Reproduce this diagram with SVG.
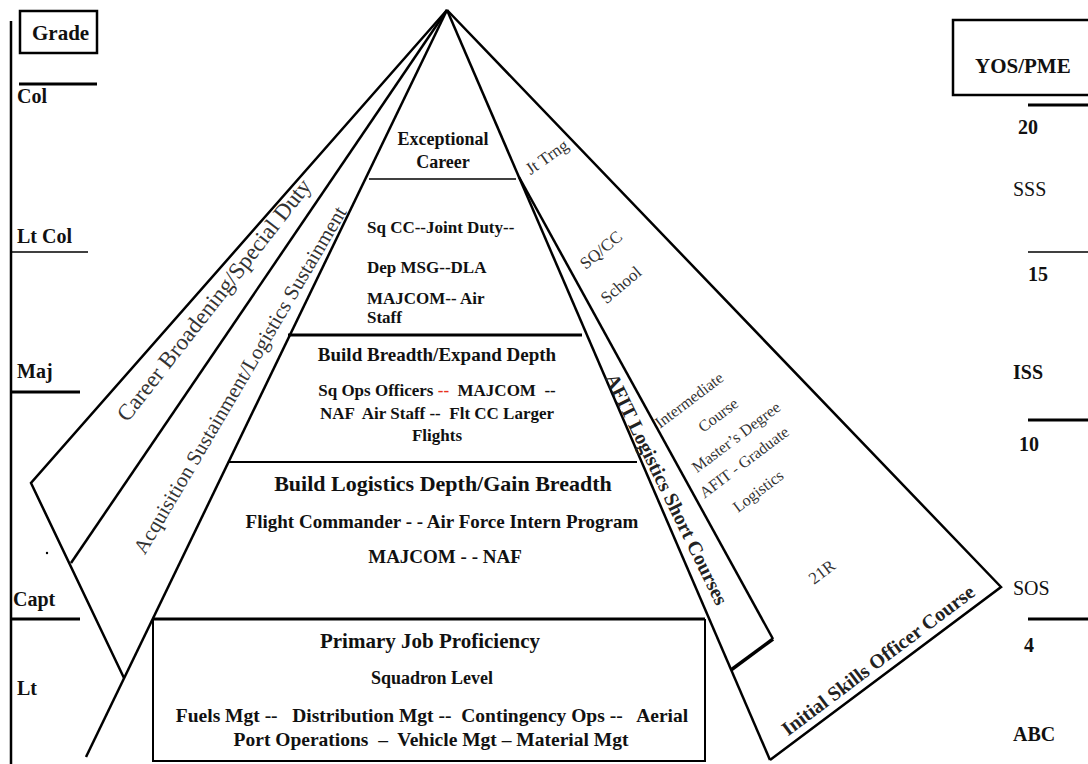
<svg xmlns="http://www.w3.org/2000/svg" width="1088" height="764" viewBox="0 0 1088 764">
<style>
text{font-family:"Liberation Serif","Times New Roman",serif;fill:#111}
.b{font-weight:bold}
.ln{stroke:#000;fill:none;stroke-width:2.5;stroke-linejoin:miter}
.thin{stroke-width:1.5}
.thick{stroke-width:3}
.m{text-anchor:middle}
.r{dominant-baseline:central;text-anchor:middle}
.lbl{font-size:20px;font-weight:bold}
.sl{font-size:19px;fill:#333}
.red{fill:#e8321e}
</style>
<rect width="1088" height="764" fill="#fff"/>

<!-- grade scale on the left -->
<g id="grade-axis">
  <line x1="11" y1="21" x2="11" y2="764" class="ln"/>
  <rect x="20" y="11" width="77" height="42" class="ln"/>
  <text x="32" y="40" class="lbl" style="font-size:21px">Grade</text>
  <line x1="19" y1="84" x2="97" y2="84" class="ln thick"/>
  <text x="17" y="103" class="lbl">Col</text>
  <text x="17" y="243" class="lbl">Lt Col</text>
  <line x1="11" y1="252" x2="88" y2="252" class="ln thin"/>
  <text x="17" y="378" class="lbl">Maj</text>
  <line x1="11" y1="392" x2="80" y2="392" class="ln thick"/>
  <circle cx="47" cy="553" r="1.2" fill="#000"/>
  <text x="13" y="606" class="lbl">Capt</text>
  <line x1="11" y1="619" x2="80" y2="619" class="ln thick"/>
  <text x="17" y="695" class="lbl">Lt</text>
</g>

<!-- years of service / PME scale on the right -->
<g id="yos-axis">
  <rect x="953" y="20" width="150" height="75" class="ln"/>
  <text x="975" y="73" class="lbl" style="font-size:21px">YOS/PME</text>
  <line x1="1028" y1="105" x2="1088" y2="105" class="ln thick"/>
  <text x="1018" y="134" class="lbl">20</text>
  <text x="1013" y="196" class="lbl" style="font-weight:normal">SSS</text>
  <line x1="1028" y1="252" x2="1088" y2="252" class="ln thin"/>
  <text x="1028" y="281" class="lbl">15</text>
  <text x="1013" y="379" class="lbl">ISS</text>
  <line x1="1028" y1="420" x2="1088" y2="420" class="ln thick"/>
  <text x="1019" y="451" class="lbl">10</text>
  <text x="1013" y="595" class="lbl" style="font-weight:normal">SOS</text>
  <line x1="1028" y1="619" x2="1088" y2="619" class="ln thick"/>
  <text x="1024" y="652" class="lbl">4</text>
  <text x="1013" y="741" class="lbl">ABC</text>
</g>

<!-- pyramid outline, tier dividers and side panels -->
<g id="connectors">
  <path d="M447,10 L86,757" class="ln"/>
  <path d="M447,10 L770,760" class="ln"/>
  <path d="M369,179 H516" class="ln thin"/>
  <path d="M288,335 H582" class="ln thick"/>
  <path d="M229,462 H637" class="ln" style="stroke-width:2"/>
  <path d="M153,619 H705" class="ln thick"/>
  <path d="M153,619 V761 H705 V619" class="ln" style="stroke-width:2"/>
  <path d="M447,10 L31,483 L124,678" class="ln"/>
  <path d="M447,10 L71,563" class="ln"/>
  <path d="M447,10 L1001,587 L770,760" class="ln"/>
  <path d="M519,177 L773,639" class="ln"/>
  <path d="M773,639 L731,670" class="ln" style="stroke-width:3.5"/>
</g>

<g id="node-exceptional" class="b" style="font-size:18px">
  <text x="443" y="145" class="m">Exceptional</text>
  <text x="443" y="168" class="m">Career</text>
</g>

<g id="node-sqcc" class="b" style="font-size:17px">
  <text x="367" y="233">Sq CC--Joint Duty--</text>
  <text x="367" y="273">Dep MSG--DLA</text>
  <text x="367" y="304">MAJCOM-- Air</text>
  <text x="367" y="323">Staff</text>
</g>

<g id="node-build-breadth" class="b">
  <text x="437" y="361" class="m" style="font-size:19px">Build Breadth/Expand Depth</text>
  <text x="437" y="396" class="m" style="font-size:17px" xml:space="preserve">Sq Ops Officers <tspan class="red">--</tspan>  MAJCOM  --</text>
  <text x="437" y="419" class="m" style="font-size:17px" xml:space="preserve">NAF  Air Staff --  Flt CC Larger</text>
  <text x="437" y="441" class="m" style="font-size:17px">Flights</text>
</g>

<g id="node-build-logistics" class="b">
  <text x="443" y="491" class="m" style="font-size:22px">Build Logistics Depth/Gain Breadth</text>
  <text x="442" y="528" class="m" style="font-size:19px">Flight Commander - - Air Force Intern Program</text>
  <text x="445" y="563" class="m" style="font-size:19px">MAJCOM - - NAF</text>
</g>

<g id="node-primary" class="b">
  <text x="430" y="648" class="m" style="font-size:21px">Primary Job Proficiency</text>
  <text x="432" y="684" class="m" style="font-size:18px">Squadron Level</text>
  <text x="432" y="722" class="m" style="font-size:19.5px" xml:space="preserve">Fuels Mgt --   Distribution Mgt --  Contingency Ops --   Aerial</text>
  <text x="431" y="746" class="m" style="font-size:19.5px" xml:space="preserve">Port Operations  –  Vehicle Mgt – Material Mgt</text>
</g>

<g id="node-career-broadening">
  <text class="r sl" style="font-size:23px" transform="translate(214,300) rotate(-52)">Career Broadening/Special Duty</text>
</g>

<g id="node-acquisition">
  <text class="r sl" style="font-size:21px" transform="translate(240,380) rotate(-59.5)">Acquisition Sustainment/Logistics Sustainment</text>
</g>

<g id="node-jt-trng">
  <text class="r sl" style="font-size:17px" transform="translate(547,157) rotate(-35)">Jt Trng</text>
</g>

<g id="node-sqcc-school">
  <text class="r sl" style="font-size:17px" transform="translate(601,250) rotate(-40)">SQ/CC</text>
  <text class="r sl" style="font-size:17px" transform="translate(621,285) rotate(-40)">School</text>
</g>

<g id="node-afit-short">
  <text class="r b" style="font-size:20px;fill:#222" transform="translate(667,489) rotate(64)">AFIT Logistics Short Courses</text>
</g>

<g id="node-education">
  <text class="r sl" style="font-size:16px" transform="translate(689,400) rotate(-37)">Intermediate</text>
  <text class="r sl" style="font-size:16px" transform="translate(718,415) rotate(-37)">Course</text>
  <text class="r sl" style="font-size:16px" transform="translate(736,437) rotate(-37)">Master’s Degree</text>
  <text class="r sl" style="font-size:16px" transform="translate(744,462) rotate(-37)">AFIT - Graduate</text>
  <text class="r sl" style="font-size:16px" transform="translate(758,491) rotate(-37)">Logistics</text>
  <text class="r sl" style="font-size:17px" transform="translate(822,572) rotate(-37)">21R</text>
</g>

<g id="node-initial-skills">
  <text class="r b" style="font-size:20px;fill:#222" transform="translate(878,660) rotate(-37)">Initial Skills Officer Course</text>
</g>
</svg>
